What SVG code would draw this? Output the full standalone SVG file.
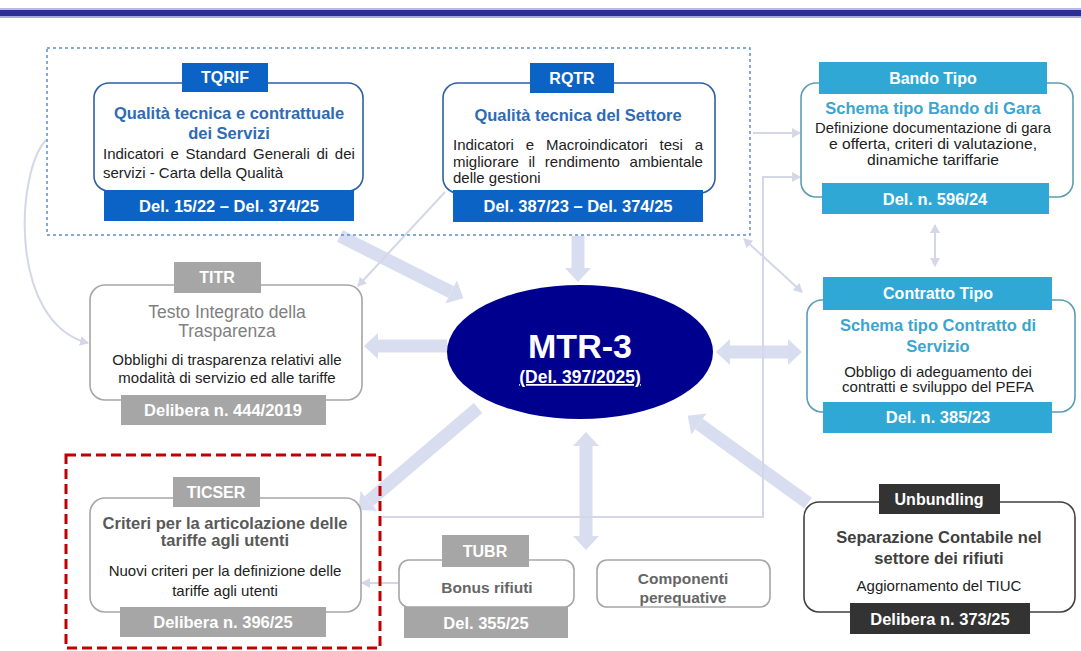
<svg xmlns="http://www.w3.org/2000/svg" width="1081" height="651" viewBox="0 0 1081 651">
<style>
text{font-family:"Liberation Sans",Arial,sans-serif}
.lbl{font-weight:bold;font-size:16px;fill:#fff;text-anchor:middle}
.del{font-weight:bold;font-size:16.5px;fill:#fff;text-anchor:middle}
.box{fill:#fff;stroke-width:1.6}
.bluebox{stroke:#2D5FA6}
.cyanbox{stroke:#5C9DB3}
.graybox{stroke:#A6A6A6}
.darkbox{stroke:#404040}
.blue{fill:#0B63C5}
.cyan{fill:#2FA8D5}
.gray{fill:#A6A6A6}
.dark{fill:#333333}
.t-blue{font-weight:bold;font-size:16.5px;fill:#2E6BB5;text-anchor:middle}
.t-cyan{font-weight:bold;font-size:16.5px;fill:#3AA6CF;text-anchor:middle}
.t-gray{font-weight:bold;font-size:16.5px;fill:#595959;text-anchor:middle}
.body{font-size:15px;fill:#222}
.bc{font-size:15px;fill:#222;text-anchor:middle}
.thick{stroke:#D8DDF0;stroke-width:13;fill:none}
.thin{stroke:#D3D7E8;stroke-width:2;fill:none}
</style>
<defs>
<marker id="big" markerUnits="userSpaceOnUse" markerWidth="14" markerHeight="26" refX="0" refY="13" orient="auto-start-reverse">
<path d="M0,0 L14,13 L0,26 z" fill="#D8DDF0"/>
</marker>
<marker id="sm" markerUnits="userSpaceOnUse" markerWidth="9" markerHeight="10" refX="8" refY="5" orient="auto-start-reverse">
<path d="M0,0 L9,5 L0,10 z" fill="#D3D7E8"/>
</marker>
</defs>
<rect width="1081" height="651" fill="#fff"/>

<g id="header">
<rect x="0" y="8" width="1081" height="3" fill="#B8B8E0"/>
<rect x="0" y="10" width="1081" height="6" fill="#2D2D9A"/>
<rect x="0" y="16" width="1081" height="2" fill="#A9A9D8"/>
</g>

<g id="connectors">
<line class="thick" x1="340" y1="236" x2="451" y2="292" marker-end="url(#big)"/>
<line class="thick" x1="578" y1="236" x2="578" y2="268" marker-end="url(#big)"/>
<line class="thick" x1="447" y1="346" x2="378" y2="346" marker-end="url(#big)"/>
<line class="thick" x1="730" y1="352" x2="788" y2="352" marker-start="url(#big)" marker-end="url(#big)"/>
<line class="thick" x1="478" y1="408" x2="369" y2="501" marker-end="url(#big)"/>
<line class="thick" x1="586" y1="446" x2="586" y2="536" marker-start="url(#big)" marker-end="url(#big)"/>
<line class="thick" x1="808" y1="503" x2="699" y2="424" marker-end="url(#big)"/>
<line class="thin" x1="753" y1="133" x2="800" y2="133" marker-end="url(#sm)"/>
<path class="thin" d="M382,517 H763 V177 H800" marker-end="url(#sm)"/>
<line class="thin" x1="744" y1="239" x2="802" y2="292" marker-start="url(#sm)" marker-end="url(#sm)"/>
<path class="thin" d="M46,140 C16,172 8,322 88,343" marker-end="url(#sm)"/>
<line class="thin" x1="445" y1="192" x2="358" y2="286" marker-end="url(#sm)"/>
<line class="thin" x1="398" y1="583" x2="362" y2="583" marker-end="url(#sm)"/>
<line class="thin" x1="935" y1="225" x2="935" y2="266" marker-start="url(#sm)" marker-end="url(#sm)"/>
</g>

<g id="group-quality">
<rect x="47" y="48" width="703" height="187" fill="none" stroke="#5B8FD0" stroke-width="1.5" stroke-dasharray="3 3"/>
</g>

<g id="tqrif">
<rect class="box bluebox" x="94" y="83" width="269" height="108" rx="15"/>
<rect class="blue" x="182" y="63" width="86" height="29"/>
<text class="lbl" x="225" y="83" font-size="15">TQRIF</text>
<text class="t-blue" x="229" y="119">Qualità tecnica e contrattuale</text>
<text class="t-blue" x="229" y="139">dei Servizi</text>
<text class="body" x="103" y="158.5" word-spacing="2.5">Indicatori e Standard Generali di dei</text>
<text class="body" x="103" y="177.5">servizi - Carta della Qualità</text>
<rect class="blue" x="104" y="190" width="250" height="31"/>
<text class="del" x="229" y="211.5">Del. 15/22 – Del. 374/25</text>
</g>

<g id="rqtr">
<rect class="box bluebox" x="443" y="83" width="272" height="110" rx="15"/>
<rect class="blue" x="530" y="63" width="84" height="30"/>
<text class="lbl" x="572" y="83.5" font-size="15">RQTR</text>
<text class="t-blue" x="578" y="121">Qualità tecnica del Settore</text>
<text class="body" x="453" y="149.5" word-spacing="7.7">Indicatori e Macroindicatori tesi a</text>
<text class="body" x="453" y="166.5" word-spacing="5.5">migliorare il rendimento ambientale</text>
<text class="body" x="453" y="182.5">delle gestioni</text>
<rect class="blue" x="453" y="190" width="250" height="32"/>
<text class="del" x="578" y="212">Del. 387/23 – Del. 374/25</text>
</g>

<g id="bando">
<rect class="box cyanbox" x="801" y="83" width="272" height="114" rx="15"/>
<rect class="cyan" x="819" y="62" width="228" height="32"/>
<text class="lbl" x="933" y="83.5">Bando Tipo</text>
<text class="t-cyan" x="933" y="114">Schema tipo Bando di Gara</text>
<text class="bc" x="933" y="133" font-size="12" textLength="236" lengthAdjust="spacingAndGlyphs">Definizione documentazione di gara</text>
<text class="bc" x="933" y="149" font-size="12" textLength="208" lengthAdjust="spacingAndGlyphs">e offerta, criteri di valutazione,</text>
<text class="bc" x="933" y="165" font-size="12" textLength="132" lengthAdjust="spacingAndGlyphs">dinamiche tariffarie</text>
<rect class="cyan" x="822" y="183" width="227" height="31"/>
<text class="del" x="935" y="204.5">Del. n. 596/24</text>
</g>

<g id="contratto">
<rect class="box cyanbox" x="807" y="300" width="268" height="112" rx="15"/>
<rect class="cyan" x="823" y="277" width="229" height="33"/>
<text class="lbl" x="938" y="299">Contratto Tipo</text>
<text class="t-cyan" x="938" y="331">Schema tipo Contratto di</text>
<text class="t-cyan" x="938" y="352">Servizio</text>
<text class="bc" x="938" y="377" font-size="13.5">Obbligo di adeguamento dei</text>
<text class="bc" x="938" y="392" font-size="13.5">contratti e sviluppo del PEFA</text>
<rect class="cyan" x="823" y="402" width="229" height="31"/>
<text class="del" x="938" y="423">Del. n. 385/23</text>
</g>

<g id="titr">
<rect class="box graybox" x="90" y="285" width="272" height="115" rx="15"/>
<rect class="gray" x="174" y="262" width="87" height="31"/>
<text class="lbl" x="217" y="283">TITR</text>
<text x="227" y="318" font-size="17.5" fill="#7F7F7F" text-anchor="middle">Testo Integrato della</text>
<text x="227" y="337" font-size="17.5" fill="#7F7F7F" text-anchor="middle">Trasparenza</text>
<text class="bc" x="227" y="364.5">Obblighi di trasparenza relativi alle</text>
<text class="bc" x="227" y="382.5">modalità di servizio ed alle tariffe</text>
<rect class="gray" x="121" y="395" width="205" height="30"/>
<text class="del" x="223" y="416" fill="#F4F4F4">Delibera n. 444/2019</text>
</g>

<g id="mtr3">
<ellipse cx="580" cy="352" rx="133" ry="67" fill="#00008F"/>
<text x="580" y="358" font-size="34" font-weight="bold" fill="#fff" text-anchor="middle">MTR-3</text>
<text x="580" y="383" font-size="17.5" font-weight="bold" fill="#fff" text-anchor="middle" text-decoration="underline">(Del. 397/2025)</text>
</g>

<g id="ticser">
<rect x="66" y="455" width="314" height="193" fill="none" stroke="#C00000" stroke-width="3" stroke-dasharray="10 5"/>
<rect class="box graybox" x="90" y="498" width="271" height="114" rx="15"/>
<rect class="gray" x="173" y="477" width="87" height="30"/>
<text class="lbl" x="216" y="497.5">TICSER</text>
<text class="t-gray" x="225" y="529">Criteri per la articolazione delle</text>
<text class="t-gray" x="225" y="546">tariffe agli utenti</text>
<text class="bc" x="225" y="575.5">Nuovi criteri per la definizione delle</text>
<text class="bc" x="225" y="595.5">tariffe agli utenti</text>
<rect class="gray" x="120" y="607" width="206" height="30"/>
<text class="del" x="223" y="628" fill="#F4F4F4">Delibera n. 396/25</text>
</g>

<g id="tubr">
<rect class="box graybox" x="399" y="560" width="175" height="47" rx="10"/>
<rect class="gray" x="442" y="535" width="87" height="32"/>
<text class="lbl" x="485" y="556.5">TUBR</text>
<text x="487" y="592.5" font-size="15.5" font-weight="bold" fill="#666" text-anchor="middle">Bonus rifiuti</text>
<rect class="gray" x="404" y="607" width="164" height="31"/>
<text class="del" x="486" y="628.5" fill="#F4F4F4">Del. 355/25</text>
</g>

<g id="componenti">
<rect class="box graybox" x="597" y="560" width="173" height="47" rx="10"/>
<text x="683" y="583.5" font-size="15.5" font-weight="bold" fill="#666" text-anchor="middle">Componenti</text>
<text x="683" y="603" font-size="15.5" font-weight="bold" fill="#666" text-anchor="middle">perequative</text>
</g>

<g id="unbundling">
<rect class="box darkbox" x="804" y="502" width="271" height="110" rx="15"/>
<rect class="dark" x="879" y="484" width="121" height="30"/>
<text class="lbl" x="939" y="504.5">Unbundling</text>
<text x="939" y="543" font-size="16.5" font-weight="bold" fill="#404040" text-anchor="middle">Separazione Contabile nel</text>
<text x="939" y="564" font-size="16.5" font-weight="bold" fill="#404040" text-anchor="middle">settore dei rifiuti</text>
<text class="bc" x="939" y="590.5">Aggiornamento del TIUC</text>
<rect class="dark" x="850" y="603" width="180" height="31"/>
<text class="del" x="940" y="624.5">Delibera n. 373/25</text>
</g>
</svg>
